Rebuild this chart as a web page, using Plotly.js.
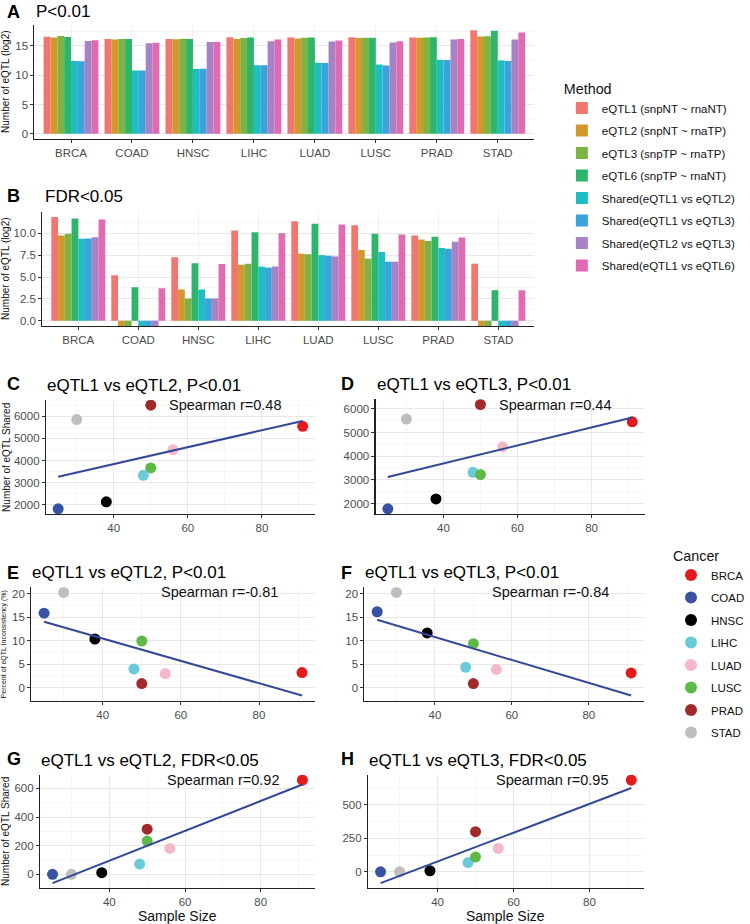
<!DOCTYPE html>
<html><head><meta charset="utf-8">
<script src="https://cdn.plot.ly/plotly-3.0.1.min.js"></script>
<style>html,body{margin:0;padding:0;background:#fff}#chart{width:750px;height:924px}</style>
</head><body><div id="chart"></div>
<script>
// ---------------- DATA ----------------
const cancers = ['BRCA', 'COAD', 'HNSC', 'LIHC', 'LUAD', 'LUSC', 'PRAD', 'STAD'];
const methods = ['eQTL1 (snpNT ~ rnaNT)', 'eQTL2 (snpNT ~ rnaTP)', 'eQTL3 (snpTP ~ rnaTP)', 'eQTL6 (snpTP ~ rnaNT)',
  'Shared(eQTL1 vs eQTL2)', 'Shared(eQTL1 vs eQTL3)', 'Shared(eQTL2 vs eQTL3)', 'Shared(eQTL1 vs eQTL6)'];
const methodColors = ['#F0766F', '#D3982D', '#7CB342', '#2DB56B', '#1DBDC3', '#3CA2DB', '#A782C4', '#E16BB2'];
const cancerColors = ['#E41A1C', '#3953A4', '#000000', '#6BCAD9', '#F5B8C8', '#5DBA47', '#A32A2A', '#BEBEBE'];

// Panel A: number of eQTL (log2), P<0.01, order = cancers
const pvalEQTL1 = [16.58, 16.20, 16.20, 16.50, 16.45, 16.50, 16.45, 17.70];
const pvalEQTL2 = [16.45, 16.10, 16.15, 16.20, 16.30, 16.35, 16.40, 16.60];
const pvalEQTL3 = [16.70, 16.20, 16.25, 16.35, 16.40, 16.40, 16.45, 16.65];
const pvalEQTL6 = [16.55, 16.20, 16.20, 16.45, 16.45, 16.40, 16.50, 17.60];
const pvalShared12 = [12.44, 10.83, 11.06, 11.70, 12.13, 11.84, 12.67, 12.51];
const pvalShared13 = [12.41, 10.80, 11.10, 11.70, 12.10, 11.65, 12.60, 12.44];
const pvalShared23 = [15.85, 15.45, 15.70, 15.80, 15.75, 15.60, 16.10, 16.10];
const pvalShared16 = [16.00, 15.55, 15.70, 16.10, 15.95, 15.80, 16.20, 17.30];

// Panel B: number of eQTL (log2), FDR<0.05 (-Infinity = no eQTL)
const fdrEQTL1 = [11.86, 5.19, 7.24, 10.30, 11.37, 10.90, 9.74, 6.52];
const fdrEQTL2 = [9.74, -Infinity, 3.56, 6.40, 7.65, 8.07, 9.28, -Infinity];
const fdrEQTL3 = [9.93, -Infinity, 2.54, 6.50, 7.60, 7.09, 9.10, -Infinity];
const fdrEQTL6 = [11.67, 3.83, 6.56, 10.10, 11.07, 9.93, 9.59, 3.49];
const fdrShared12 = [9.36, -Infinity, 3.56, 6.17, 7.50, 7.84, 8.30, -Infinity];
const fdrShared13 = [9.40, -Infinity, 2.54, 6.06, 7.42, 6.75, 8.22, -Infinity];
const fdrShared23 = [9.55, -Infinity, 2.54, 6.20, 7.35, 6.75, 9.02, -Infinity];
const fdrShared16 = [11.56, 3.72, 6.48, 10.00, 11.00, 9.85, 9.51, 3.49];

// Scatter panels: x = sample size, order = cancers
const sampleSize = [91, 25, 38, 48, 56, 50, 50, 30];
const sharedP12 = [5545, 1820, 2136, 3332, 4486, 3668, 6500, 5850];     // C
const sharedP13 = [5455, 1777, 2193, 3322, 4395, 3223, 6185, 5571];     // D
const inconsP12 = [3.26, 15.9, 10.4, 4.03, 3.05, 9.96, 0.93, 20.3];    // E
const inconsP13 = [3.2, 16.2, 11.7, 4.4, 3.9, 9.4, 0.93, 20.3];        // F
const sharedFdr12 = [657, 0, 12, 72, 181, 232, 315, 0];                // G
const sharedFdr13 = [685, 0, 8, 69, 175, 110, 300, 0];                 // H
const spearmanR = ['0.48', '0.44', '-0.81', '-0.84', '0.92', '0.95'];
const panelTitles = ['eQTL1 vs eQTL2, P&lt;0.01', 'eQTL1 vs eQTL3, P&lt;0.01', 'eQTL1 vs eQTL2, P&lt;0.01',
  'eQTL1 vs eQTL3, P&lt;0.01', 'eQTL1 vs eQTL2, FDR&lt;0.05', 'eQTL1 vs eQTL3, FDR&lt;0.05'];

// ---------------- LAYOUT HELPERS ----------------
const W = 750, H = 924;
const FONT = 'Liberation Sans, Arial, sans-serif';
const px2x = (a, b) => [a / W, b / W];
const px2y = (top, bot) => [1 - bot / H, 1 - top / H];
const expand = (lo, hi, f = 0.05) => { const d = (hi - lo) * f; return [lo - d, hi + d]; };

function axis(extra) {
  return Object.assign({
    showline: true, linecolor: '#222', linewidth: 1.1, mirror: false,
    ticks: 'outside', ticklen: 3, tickwidth: 1, tickcolor: '#333',
    tickfont: {family: FONT, size: 11.5, color: '#4D4D4D'},
    showgrid: true, gridcolor: '#E8E8E8', gridwidth: 1, zeroline: false, fixedrange: true
  }, extra);
}
const minorGrid = (dt) => ({dtick: dt, tick0: 0, showgrid: true, gridcolor: '#F2F2F2', gridwidth: 0.7});

const traces = [];
const layout = {
  width: W, height: H, margin: {l: 0, r: 0, t: 0, b: 0},
  paper_bgcolor: '#fff', plot_bgcolor: '#fff',
  barmode: 'group', bargap: 0.1, bargroupgap: 0,
  showlegend: true, hovermode: false,
  font: {family: FONT, color: '#1a1a1a'},
  annotations: [], shapes: []
};

// ---------------- BAR PANELS ----------------
const pvalSeries = [pvalEQTL1, pvalEQTL2, pvalEQTL3, pvalEQTL6, pvalShared12, pvalShared13, pvalShared23, pvalShared16];
const fdrSeries = [fdrEQTL1, fdrEQTL2, fdrEQTL3, fdrEQTL6, fdrShared12, fdrShared13, fdrShared23, fdrShared16];

const maxFinite = arrs => Math.max(...arrs.flat().filter(Number.isFinite));
const rangeA = expand(0, maxFinite(pvalSeries));
const rangeB = expand(0, maxFinite(fdrSeries));

pvalSeries.forEach((vals, m) => traces.push({
  type: 'bar', x: cancers, y: vals, name: methods[m], legendgroup: methods[m], legend: 'legend',
  marker: {color: methodColors[m], line: {width: 0}}, xaxis: 'x', yaxis: 'y', showlegend: true
}));
fdrSeries.forEach((vals, m) => traces.push({
  type: 'bar', x: cancers, y: vals.map(v => Number.isFinite(v) ? v : rangeB[0]), name: methods[m],
  legendgroup: methods[m], legend: 'legend',
  marker: {color: methodColors[m], line: {width: 0}}, xaxis: 'x2', yaxis: 'y2', showlegend: false
}));

const catRange = [-0.6, cancers.length - 0.4];
layout.xaxis = axis({domain: px2x(35, 543), anchor: 'y', type: 'category', range: catRange, gridcolor: '#F0F0F0'});
layout.yaxis = axis({domain: px2y(25, 139), anchor: 'x', range: rangeA, dtick: 5, tick0: 0, minor: minorGrid(2.5)});
layout.xaxis2 = axis({domain: px2x(43, 543), anchor: 'y2', type: 'category', range: catRange, gridcolor: '#F0F0F0'});
layout.yaxis2 = axis({domain: px2y(211.7, 326), anchor: 'x2', range: rangeB, dtick: 2.5, tick0: 0, tickformat: '.1f', minor: minorGrid(1.25)});

// ---------------- SCATTER PANELS ----------------
const scatterSeries = [sharedP12, sharedP13, inconsP12, inconsP13, sharedFdr12, sharedFdr13];
const panelBox = [ // [left, right, top, bottom] in px
  [46.7, 320, 400, 514], [381.7, 655, 399.3, 514],
  [31.7, 320, 587.3, 700.7], [370.4, 654.3, 587.3, 700.7],
  [40.7, 320, 775, 888.3], [374, 654.3, 775, 888.3]
];
const yTick = [{dtick: 1000, minor: 500, fmt: 'd'}, {dtick: 1000, minor: 500, fmt: 'd'},
  {dtick: 5, minor: 2.5, fmt: ''}, {dtick: 5, minor: 2.5, fmt: ''},
  {dtick: 200, minor: 100, fmt: 'd'}, {dtick: 250, minor: 125, fmt: 'd'}];

function linFit(xs, ys) {
  const n = xs.length, mx = xs.reduce((a, b) => a + b) / n, my = ys.reduce((a, b) => a + b) / n;
  let sxy = 0, sxx = 0;
  xs.forEach((x, i) => { sxy += (x - mx) * (ys[i] - my); sxx += (x - mx) ** 2; });
  const b = sxy / sxx;
  return x => my + b * (x - mx);
}

const xMin = Math.min(...sampleSize), xMax = Math.max(...sampleSize);
const xRange = expand(xMin, xMax);

scatterSeries.forEach((vals, p) => {
  const ax = p + 3;
  const xa = 'x' + ax, ya = 'y' + ax;
  const fit = linFit(sampleSize, vals);
  const lineX = [xMin, xMax], lineY = lineX.map(fit);
  const yLo = Math.min(...vals, ...lineY), yHi = Math.max(...vals, ...lineY);
  const [l, r, t, b] = panelBox[p];
  layout['xaxis' + ax] = axis({domain: px2x(l, r), anchor: ya, range: xRange, dtick: 20, tick0: 0, minor: minorGrid(10)});
  layout['yaxis' + ax] = axis({domain: px2y(t, b), anchor: xa, range: expand(yLo, yHi), dtick: yTick[p].dtick, tick0: 0,
    tickformat: yTick[p].fmt, minor: minorGrid(yTick[p].minor)});
  cancers.forEach((c, i) => traces.push({
    type: 'scatter', mode: 'markers', x: [sampleSize[i]], y: [vals[i]], name: c, legendgroup: 'c_' + c,
    legend: 'legend2', showlegend: p === 0, marker: {color: cancerColors[i], size: 11}, xaxis: xa, yaxis: ya
  }));
  traces.push({type: 'scatter', mode: 'lines', x: lineX, y: lineY, showlegend: false,
    line: {color: '#34489A', width: 2}, xaxis: xa, yaxis: ya});
  // Spearman annotation
  layout.annotations.push({xref: xa, yref: ya, x: 70, y: Math.max(...vals), text: 'Spearman r=' + spearmanR[p],
    showarrow: false, font: {family: FONT, size: 14.5, color: '#111'}});
  // panel title
  layout.annotations.push({xref: 'paper', yref: 'paper', x: (l - 1) / W, y: 1 - (t - 15) / H, xanchor: 'left', yanchor: 'middle',
    text: panelTitles[p], showarrow: false, font: {family: FONT, size: 17, color: '#000'}});
});

// ---------------- TEXT ----------------
const letters = [['A', 5, 11.5], ['B', 5, 196], ['C', 5, 384], ['D', 345, 384], ['E', 5, 572.5], ['F', 345, 572.5], ['G', 5, 759], ['H', 345, 759]];
letters.forEach(([t, x, y]) => layout.annotations.push({xref: 'paper', yref: 'paper', x: x / W, y: 1 - y / H,
  xanchor: 'left', yanchor: 'middle', text: '<b>' + t + '</b>', showarrow: false, font: {family: FONT, size: 18, color: '#000'}}));
[['P&lt;0.01', 35, 11.5], ['FDR&lt;0.05', 44, 196]].forEach(([t, x, y]) => layout.annotations.push({xref: 'paper', yref: 'paper',
  x: x / W, y: 1 - y / H, xanchor: 'left', yanchor: 'middle', text: t, showarrow: false, font: {family: FONT, size: 17, color: '#000'}}));

const yTitles = [['Number of eQTL (log2)', 5, 82, 10], ['Number of eQTL (log2)', 5, 269, 10],
  ['Number of eQTL Shared', 6, 457, 10], ['Percent of eQTL Inconsistency (%)', 4.5, 644, 7], ['Number of eQTL Shared', 5, 831, 10]];
yTitles.forEach(([t, x, y, s]) => layout.annotations.push({xref: 'paper', yref: 'paper', x: x / W, y: 1 - y / H,
  xanchor: 'center', yanchor: 'middle', textangle: -90, text: t, showarrow: false, font: {family: FONT, size: s, color: '#111'}}));
[[180.3, 916], [514.2, 916]].forEach(([x, y]) => layout.annotations.push({xref: 'paper', yref: 'paper', x: x / W, y: 1 - y / H,
  xanchor: 'center', yanchor: 'middle', text: 'Sample Size', showarrow: false, font: {family: FONT, size: 14, color: '#111'}}));

// ---------------- LEGENDS ----------------
layout.legend = {x: 571 / W, y: 1 - 75 / H, xanchor: 'left', yanchor: 'top', bgcolor: 'rgba(0,0,0,0)',
  title: {text: 'Method', font: {family: FONT, size: 14.3, color: '#111'}},
  font: {family: FONT, size: 11.5, color: '#111'}, tracegroupgap: 3.5, traceorder: 'grouped'};
layout.legend2 = {x: 682 / W, y: 1 - 542 / H, xanchor: 'left', yanchor: 'top', bgcolor: 'rgba(0,0,0,0)',
  title: {text: 'Cancer', font: {family: FONT, size: 14.3, color: '#111'}},
  font: {family: FONT, size: 11.5, color: '#111'}, tracegroupgap: 3.5, traceorder: 'grouped', itemsizing: 'constant'};

Plotly.newPlot('chart', traces, layout, {staticPlot: true, displayModeBar: false});
</script></body></html>
